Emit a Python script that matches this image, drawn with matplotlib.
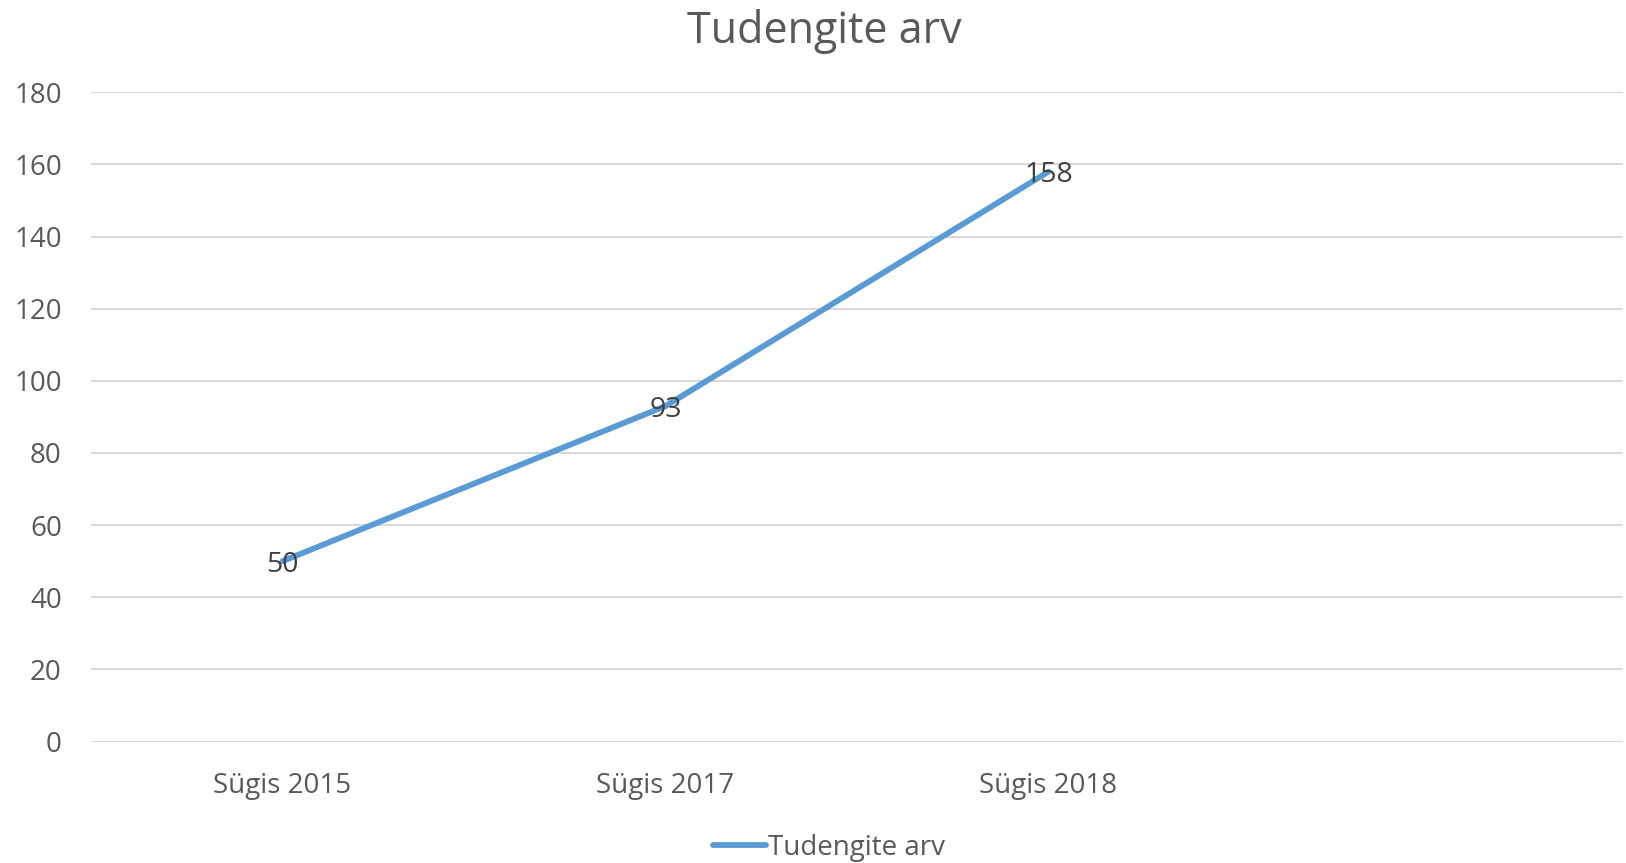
import matplotlib
matplotlib.use("Agg")
import matplotlib.pyplot as plt

categories = ["Sügis 2015", "Sügis 2017", "Sügis 2018", ""]
values = [50, 93, 158]
series_name = "Tudengite arv"
title = "Tudengite arv"
yticks = [0, 20, 40, 60, 80, 100, 120, 140, 160, 180]

plt.rcParams['font.family'] = ['Open Sans', 'DejaVu Sans']

fig = plt.figure(figsize=(16.26, 8.63), dpi=100)
ax = fig.add_axes([91/1626, 1 - 741.5/863, (1623-91)/1626, (741.5-92.3)/863])

x = list(range(len(categories)))
line, = ax.plot(x[:len(values)], values, color="#5B9BD5", lw=4.2,
                solid_capstyle="round", label=series_name, zorder=3)
for xi, v in zip(x, values):
    ax.text(xi, v, str(v), ha="center", va="center_baseline", fontsize=20.5,
            color="#404040", zorder=4)

ax.set_xlim(-0.5, len(categories) - 0.5)
ax.set_ylim(0, 180)
ax.set_yticks(yticks)
ax.set_xticks(x)
ax.set_xticklabels(categories)
ax.grid(axis="y", color="#D9D9D9", lw=1.5)
ax.set_axisbelow(True)
for s in ax.spines.values():
    s.set_visible(False)
ax.tick_params(axis="both", length=0, labelsize=20, labelcolor="#595959")
ax.tick_params(axis="y", pad=21)
ax.tick_params(axis="x", pad=22)

fig.text(824/1626, 1 - 32/863, title, ha="center", va="center",
         fontsize=31, color="#595959")
fig.legend(handles=[line], loc="center", bbox_to_anchor=(829/1626, 1 - 848/863),
           frameon=False, fontsize=20, labelcolor="#595959",
           handlelength=1.9, handletextpad=0.1)

fig.savefig("out.png", dpi=100)
